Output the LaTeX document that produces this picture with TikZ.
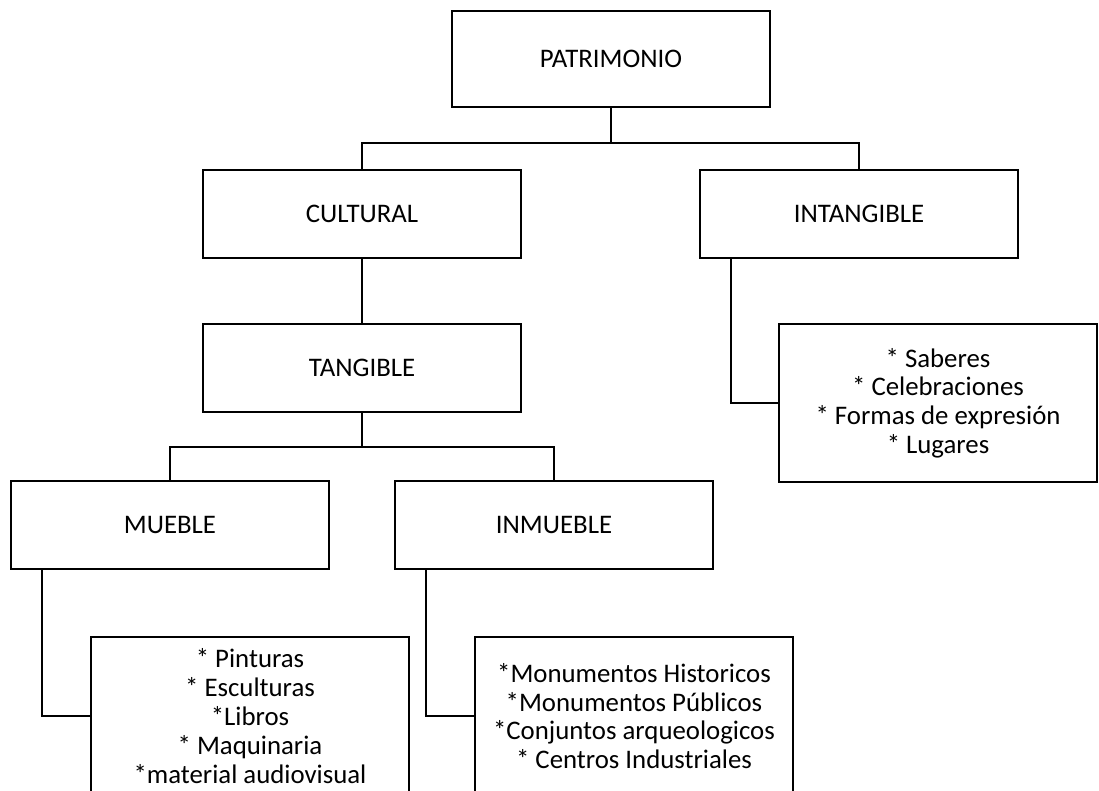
\documentclass[tikz,border=0pt]{standalone}
\usepackage{fontspec}
\setmainfont{Carlito}
\usetikzlibrary{positioning}
\tikzset{
    caja/.style={
           rectangle,
           draw=black, line width=2pt,
           minimum width=318pt,
           minimum height=88pt,
           inner sep=2pt,
           align=center,
           font=\fontsize{26.8}{28.8}\selectfont,
           },
}
\tikzset{
    lista/.style={
           caja,
           minimum height=158pt,
           },
}

\begin{document}
\begin{tikzpicture}[x=1pt,y=1pt,line width=2pt]
 \clip (0,0) rectangle (1099,791);

 \node[caja,minimum height=96pt] (PAT) at (611,732)
 {PATRIMONIO};

 \node[caja] (CUL) at (362,577)
 {CULTURAL};

 \node[caja,
  right of=CUL,
  node distance=497pt] (INT)
 {INTANGIBLE};

 \node[caja,
  below of=CUL,
  node distance=154pt] (TAN)
 {TANGIBLE};

 \node[lista,
  below of=INT,
  node distance=189pt,
  xshift=79pt] (SAB)
 {* Saberes\\
  * Celebraciones\\
  * Formas de expresión\\
  * Lugares};

 \node[caja] (MUE) at (170,266)
 {MUEBLE};

 \node[caja,
  right of=MUE,
  node distance=384pt] (INM)
 {INMUEBLE};

 \node[lista,
  below of=MUE,
  node distance=191pt,
  xshift=80pt] (LMUE)
 {* Pinturas\\
  * Esculturas\\
  *Libros\\
  * Maquinaria\\
  *material audiovisual};

 \node[lista,
  below of=INM,
  node distance=191pt,
  xshift=80pt] (LINM)
 {*Monumentos Historicos\\
  *Monumentos Públicos\\
  *Conjuntos arqueologicos\\
  * Centros Industriales};

 \coordinate (bus1) at (611,648);
 \coordinate (bus2) at (362,344);

 \draw (PAT) -- (PAT |- bus1);
 \draw (CUL.north) |- (bus1) -| (INT.north);
 \draw (CUL) -- (TAN);
 \draw (TAN) -- (TAN |- bus2);
 \draw (MUE.north) |- (bus2) -| (INM.north);
 \draw ([xshift=32pt]MUE.south west) |- (LMUE.west);
 \draw ([xshift=32pt]INM.south west) |- (LINM.west);
 \draw ([xshift=32pt]INT.south west) |- (SAB.west);

\end{tikzpicture}
\end{document}
